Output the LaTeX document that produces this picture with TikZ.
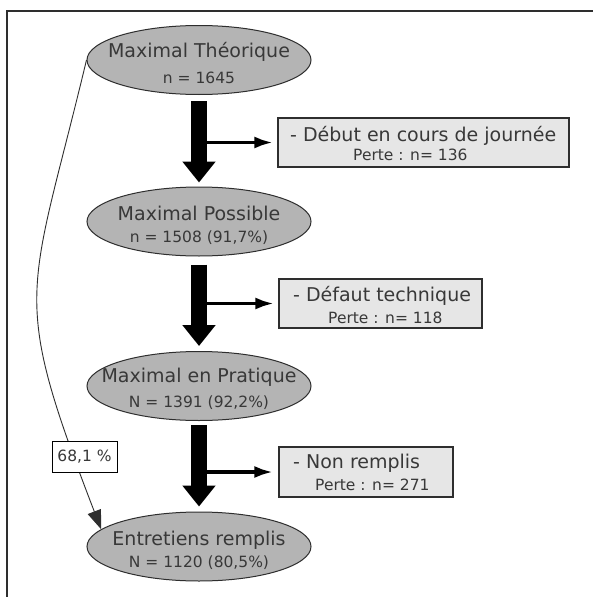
\documentclass[tikz,border=0pt]{standalone}
\usepackage{fontspec}
\setmainfont{DejaVu Sans}
\usetikzlibrary{shapes.geometric,arrows.meta}
\definecolor{ellfill}{HTML}{B4B4B4}
\definecolor{boxfill}{HTML}{E6E6E6}
\definecolor{ink}{HTML}{2E2E2E}
\definecolor{txt}{HTML}{383838}
\begin{document}
\begin{tikzpicture}[x=1pt,y=-1pt,
  ell/.style={ellipse, draw=ink, line width=1pt, fill=ellfill, minimum width=224pt, minimum height=69pt, inner sep=0pt},
  ttl/.style={font=\fontsize{19}{22}\selectfont, text=txt, anchor=base, inner sep=0pt},
  sub/.style={font=\fontsize{15.5}{18}\selectfont, text=txt, anchor=base, inner sep=0pt},
  btl/.style={font=\fontsize{19}{22}\selectfont, text=txt, anchor=base west, inner sep=0pt},
  bsub/.style={font=\fontsize{15.5}{18}\selectfont, text=txt, anchor=base west, inner sep=0pt},
  boxn/.style={draw=ink, line width=1.2pt, fill=boxfill, inner sep=0pt},
  bigarrow/.style={line width=16pt, draw=black, -{Triangle[length=21pt,width=32pt]}},
  sidearrow/.style={line width=3.8pt, draw=black, -{Latex[length=19pt,width=12pt]}},
  curvearrow/.style={line width=0.9pt, draw=ink, -{Triangle[length=19pt,width=14pt]}},
  lbl/.style={draw=black, line width=1pt, fill=white, minimum width=65pt, minimum height=31pt, inner sep=0pt, font=\fontsize{15.5}{18}\selectfont, text=txt}
]
\useasboundingbox (0,0) rectangle (593,597);
\fill[white] (0,0) rectangle (593,597);
% frame
\draw[line width=1.2pt, draw=ink] (7,597) -- (7,11) -- (593,11);

% ellipses
\node[ell] (e1) at (199,60) {};
\node[ell] (e2) at (199,221.5) {};
\node[ell] (e3) at (199,386) {};
\node[ell] (e4) at (199,546.5) {};

\node[ttl] (e1t) at (199,57) {Maximal Théorique};
\node[sub] (e1s) at (199,83) {n = 1645};
\node[ttl] (e2t) at (199,220) {Maximal Possible};
\node[sub] (e2s) at (199,242) {n = 1508 (91,7\%)};
\node[ttl] (e3t) at (199,382) {Maximal en Pratique};
\node[sub] (e3s) at (199,407) {N = 1391 (92,2\%)};
\node[ttl] (e4t) at (199,545) {Entretiens remplis};
\node[sub] (e4s) at (199,567) {N = 1120 (80,5\%)};

% boxes
\node[boxn, minimum width=291pt, minimum height=49pt] (b1) at (423.5,142.5) {};
\node[boxn, minimum width=203pt, minimum height=49pt] (b2) at (380.5,303.5) {};
\node[boxn, minimum width=174pt, minimum height=50pt] (b3) at (366,472) {};

\node[btl] (b1t) at (290,141.7) {- Début en cours de journée};
\node[bsub] (b1s) at (353,160) {Perte : n= 136};
\node[btl] (b2t) at (293,301.7) {- Défaut technique};
\node[bsub] (b2s) at (328,323.3) {Perte : n= 118};
\node[btl] (b3t) at (293,468) {- Non remplis};
\node[bsub] (b3s) at (315,490) {Perte : n= 271};

% thick arrows
\draw[bigarrow] ([yshift=-6pt]e1.south) -- ([yshift=4pt]e2.north);
\draw[bigarrow] ([yshift=-8pt]e2.south) -- ([yshift=5pt]e3.north);
\draw[bigarrow] ([yshift=-4pt]e3.south) -- ([yshift=5pt]e4.north);

% side arrows
\draw[sidearrow] (b1.west -| e1.south) -- ([xshift=-4pt]b1.west);
\draw[sidearrow] (b2.west -| e2.south) -- ([xshift=-4pt]b2.west);
\draw[sidearrow] (b3.west -| e3.south) -- ([xshift=-5pt]b3.west);

% curved arrow
\draw[curvearrow] (e1.west) .. controls (29,300) and (9,290) .. (e4.170);
\node[lbl] (pct) at (84.5,456.5) {68,1 \%};
\end{tikzpicture}
\end{document}
